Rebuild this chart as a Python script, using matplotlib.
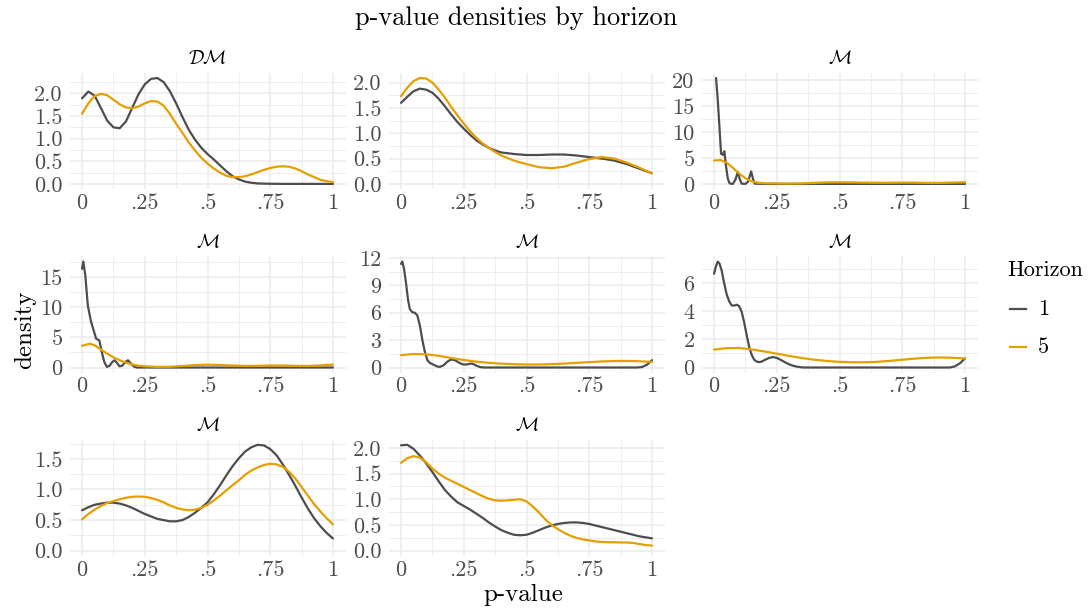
import numpy as np
import matplotlib
matplotlib.use("Agg")
import matplotlib.pyplot as plt
from matplotlib.lines import Line2D
from matplotlib.ticker import FixedLocator, FormatStrFormatter, FixedFormatter

plt.rcParams["font.family"] = ["cmr10", "DejaVu Serif"]
plt.rcParams["mathtext.fontset"] = "cm"
plt.rcParams["axes.formatter.use_mathtext"] = True

col_h1 = "#4D4D4D"
col_h5 = "#E69F00"
grid_col = "#EBEBEB"

titles = [r"$\mathcal{DM}$", "", r"$\mathcal{M}$", r"$\mathcal{M}$",
          r"$\mathcal{M}$", r"$\mathcal{M}$", r"$\mathcal{M}$", r"$\mathcal{M}$"]

horizons = ["1", "5"]

grid41 = [round(0.025 * k, 3) for k in range(41)]

# panel 1
p1_h1_x = [0, .025, .05, .075, .1, .125, .15, .175, .2, .225, .25, .275, .3, .325, .35, .375,
           .4, .425, .45, .475, .5, .525, .55, .575, .6, .625, .65, .675, .7, .75, .8, .9, 1]
p1_h1_y = [1.89, 2.04, 1.95, 1.68, 1.40, 1.25, 1.23, 1.38, 1.68, 1.98, 2.20, 2.32, 2.34, 2.25,
           2.05, 1.78, 1.48, 1.20, 0.98, 0.80, 0.66, 0.54, 0.41, 0.28, 0.17, 0.10, 0.05, 0.025,
           0.01, 0.003, 0, 0, 0]
p1_h5_x = grid41
p1_h5_y = [1.55, 1.78, 1.94, 1.99, 1.96, 1.86, 1.76, 1.69, 1.67, 1.71, 1.78, 1.83, 1.82, 1.73,
           1.55, 1.33, 1.13, 0.92, 0.74, 0.58, 0.45, 0.34, 0.25, 0.18, 0.15, 0.15, 0.17, 0.21,
           0.26, 0.31, 0.35, 0.38, 0.39, 0.38, 0.34, 0.28, 0.21, 0.15, 0.09, 0.06, 0.04]

# panel 2
p2_h1_x = [0, .025, .05, .075, .1, .125, .15, .175, .2, .225, .25, .275, .3, .325, .35, .375,
           .4, .45, .5, .55, .6, .65, .7, .75, .8, .85, .9, .95, 1]
p2_h1_y = [1.60, 1.72, 1.83, 1.88, 1.86, 1.80, 1.68, 1.53, 1.37, 1.22, 1.09, 0.97, 0.86, 0.78,
           0.71, 0.66, 0.62, 0.59, 0.57, 0.57, 0.58, 0.58, 0.56, 0.53, 0.50, 0.46, 0.39, 0.30, 0.21]
p2_h5_x = p2_h1_x
p2_h5_y = [1.73, 1.90, 2.03, 2.09, 2.08, 2.00, 1.86, 1.70, 1.52, 1.35, 1.19, 1.04, 0.91, 0.80,
           0.71, 0.63, 0.56, 0.46, 0.39, 0.33, 0.31, 0.34, 0.42, 0.49, 0.53, 0.50, 0.42, 0.32, 0.21]

# panel 3
p3_h1_x = [.008, .015, .021, .028, .035, .041, .048, .055, .062, .075, .085, .095, .102, .11,
           .125, .135, .148, .155, .162, .2, .5, 1]
p3_h1_y = [20.4, 16.0, 11.4, 5.8, 5.6, 6.3, 3.3, 1.0, 0.1, 0.0, 0.8, 2.3, 1.0, 0.05,
           0.0, 0.4, 2.4, 1.0, 0.05, 0, 0, 0]
p3_h5_x = [0, .025, .05, .075, .1, .125, .15, .175, .2, .25, .3, .35, .4, .45, .5, .55, .6,
           .65, .7, .75, .8, .85, .9, .95, 1]
p3_h5_y = [4.5, 4.6, 4.1, 3.1, 2.0, 1.1, 0.5, 0.22, 0.12, 0.08, 0.06, 0.1, 0.2, 0.28, 0.3,
           0.28, 0.25, 0.22, 0.22, 0.25, 0.24, 0.2, 0.2, 0.25, 0.32]

# panel 4
p4_h1_x = [0, .005, .013, .023, .036, .056, .069, .076, .083, .089, .099, .11, .12, .129, .139,
           .149, .16, .172, .183, .192, .2, .21, .22, .25, .5, 1]
p4_h1_y = [16.4, 17.6, 15.3, 10.3, 7.6, 4.8, 4.5, 3.1, 1.8, 0.9, 0.1, 0.3, 0.9, 1.2, 0.8,
           0.2, 0.3, 0.9, 1.2, 0.8, 0.4, 0.1, 0.0, 0, 0, 0]
p4_h5_x = [0, .03, .05, .075, .1, .125, .15, .175, .2, .225, .25, .3, .35, .4, .45, .5, .55,
           .6, .65, .7, .75, .8, .85, .9, .95, 1]
p4_h5_y = [3.6, 3.95, 3.7, 3.0, 2.3, 1.7, 1.2, 0.8, 0.5, 0.3, 0.2, 0.1, 0.12, 0.25, 0.4, 0.47,
           0.42, 0.33, 0.27, 0.28, 0.33, 0.33, 0.28, 0.25, 0.35, 0.48]

# panel 5
p5_h1_x = [0, .005, .012, .02, .028, .035, .045, .055, .065, .075, .085, .095, .105, .115,
           .13, .145, .155, .17, .185, .2, .215, .23, .245, .26, .275, .285, .3, .315, .33,
           .5, .94, .96, .98, 1]
p5_h1_y = [11.35, 11.6, 10.8, 9.2, 7.4, 6.4, 6.05, 6.0, 5.7, 4.6, 3.0, 1.7, 0.8, 0.5,
           0.3, 0.1, 0.07, 0.25, 0.65, 0.88, 0.8, 0.55, 0.35, 0.32, 0.42, 0.42, 0.2, 0.05, 0,
           0, 0, 0.05, 0.3, 0.8]
p5_h5_x = [0, .05, .1, .15, .2, .25, .3, .35, .4, .45, .5, .55, .6, .65, .7, .75, .8, .85,
           .9, .95, 1]
p5_h5_y = [1.35, 1.48, 1.45, 1.28, 1.04, 0.82, 0.64, 0.51, 0.42, 0.36, 0.33, 0.33, 0.37,
           0.43, 0.51, 0.59, 0.66, 0.71, 0.72, 0.68, 0.62]

# panel 6
p6_h1_x = [0, .008, .015, .022, .03, .04, .05, .06, .07, .08, .09, .1, .11, .12, .13, .14,
           .15, .16, .17, .18, .19, .2, .22, .235, .25, .27, .29, .31, .33, .355, .5, .94,
           .96, .98, 1]
p6_h1_y = [6.64, 7.2, 7.5, 7.35, 6.9, 6.0, 5.2, 4.7, 4.4, 4.38, 4.45, 4.35, 3.95, 3.2, 2.3,
           1.45, 0.9, 0.55, 0.42, 0.38, 0.42, 0.52, 0.68, 0.74, 0.68, 0.5, 0.3, 0.15, 0.06, 0,
           0, 0, 0.08, 0.3, 0.64]
p6_h5_x = p5_h5_x
p6_h5_y = [1.27, 1.37, 1.38, 1.28, 1.14, 0.98, 0.82, 0.67, 0.55, 0.46, 0.40, 0.37, 0.37,
           0.40, 0.47, 0.55, 0.63, 0.69, 0.71, 0.69, 0.64]

# panel 7
p7_h1_x = grid41
p7_h1_y = [0.66, 0.71, 0.75, 0.77, 0.785, 0.785, 0.77, 0.74, 0.70, 0.65, 0.60, 0.56, 0.52,
           0.50, 0.48, 0.48, 0.50, 0.55, 0.62, 0.70, 0.79, 0.92, 1.07, 1.23, 1.38, 1.51, 1.62,
           1.69, 1.73, 1.72, 1.66, 1.56, 1.41, 1.24, 1.06, 0.87, 0.69, 0.53, 0.40, 0.29, 0.2]
p7_h5_x = grid41
p7_h5_y = [0.51, 0.60, 0.67, 0.73, 0.78, 0.81, 0.84, 0.865, 0.88, 0.885, 0.88, 0.86, 0.83,
           0.79, 0.74, 0.70, 0.675, 0.66, 0.67, 0.70, 0.75, 0.82, 0.90, 0.985, 1.07, 1.15,
           1.24, 1.31, 1.36, 1.40, 1.42, 1.41, 1.37, 1.29, 1.18, 1.04, 0.90, 0.76, 0.64, 0.53,
           0.43]

# panel 8
p8_h1_x = grid41
p8_h1_y = [2.05, 2.06, 1.98, 1.85, 1.70, 1.53, 1.35, 1.18, 1.05, 0.94, 0.87, 0.80, 0.72,
           0.64, 0.55, 0.47, 0.40, 0.35, 0.31, 0.30, 0.31, 0.35, 0.40, 0.45, 0.49, 0.52, 0.54,
           0.55, 0.55, 0.54, 0.52, 0.49, 0.46, 0.43, 0.40, 0.37, 0.34, 0.31, 0.28, 0.26, 0.24]
p8_h5_x = grid41
p8_h5_y = [1.71, 1.80, 1.84, 1.81, 1.72, 1.60, 1.50, 1.42, 1.36, 1.30, 1.24, 1.18, 1.12,
           1.06, 1.01, 0.98, 0.97, 0.98, 0.99, 1.00, 0.96, 0.86, 0.74, 0.61, 0.50, 0.42, 0.35,
           0.29, 0.25, 0.22, 0.20, 0.18, 0.17, 0.165, 0.165, 0.16, 0.16, 0.15, 0.13, 0.11, 0.1]

series = [
    (p1_h1_x, p1_h1_y, p1_h5_x, p1_h5_y),
    (p2_h1_x, p2_h1_y, p2_h5_x, p2_h5_y),
    (p3_h1_x, p3_h1_y, p3_h5_x, p3_h5_y),
    (p4_h1_x, p4_h1_y, p4_h5_x, p4_h5_y),
    (p5_h1_x, p5_h1_y, p5_h5_x, p5_h5_y),
    (p6_h1_x, p6_h1_y, p6_h5_x, p6_h5_y),
    (p7_h1_x, p7_h1_y, p7_h5_x, p7_h5_y),
    (p8_h1_x, p8_h1_y, p8_h5_x, p8_h5_y),
]

y_ticks = [
    [0, 0.5, 1.0, 1.5, 2.0],
    [0, 0.5, 1.0, 1.5, 2.0],
    [0, 5, 10, 15, 20],
    [0, 5, 10, 15],
    [0, 3, 6, 9, 12],
    [0, 2, 4, 6],
    [0, 0.5, 1.0, 1.5],
    [0, 0.5, 1.0, 1.5, 2.0],
]
y_fmt = ["%.1f", "%.1f", "%d", "%d", "%d", "%d", "%.1f", "%.1f"]

x_ticks = [0, 0.25, 0.5, 0.75, 1]
x_labels = ["0", ".25", ".5", ".75", "1"]

W, H = 1091, 609
fig = plt.figure(figsize=(W / 100, H / 100), dpi=100)

# panel boxes in pixels: left edges per column, top edges per row
col_left = [69.5, 388.5, 701.5]
row_top = [72.7, 256.3, 439.5]
pw, ph = 276, 116.5

for i, (x1, y1, x5, y5) in enumerate(series):
    r, c = divmod(i, 3)
    ax = fig.add_axes([col_left[c] / W, 1 - (row_top[r] + ph) / H, pw / W, ph / H])
    ax.plot(x1, y1, color=col_h1, lw=1.6, solid_capstyle="round", solid_joinstyle="round")
    ax.plot(x5, y5, color=col_h5, lw=1.6, solid_capstyle="round", solid_joinstyle="round")

    ymax = max(max(y1), max(y5))
    ax.set_xlim(-0.05, 1.05)
    ax.set_ylim(-0.05 * ymax, 1.05 * ymax)

    ax.xaxis.set_major_locator(FixedLocator(x_ticks))
    ax.xaxis.set_major_formatter(FixedFormatter(x_labels))
    ax.xaxis.set_minor_locator(FixedLocator([0.125, 0.375, 0.625, 0.875]))
    yt = y_ticks[i]
    ax.yaxis.set_major_locator(FixedLocator(yt))
    ax.yaxis.set_major_formatter(FormatStrFormatter(y_fmt[i]))
    step = yt[1] - yt[0]
    ax.yaxis.set_minor_locator(FixedLocator([t + step / 2 for t in yt]))

    ax.grid(which="major", color=grid_col, lw=1.1)
    ax.grid(which="minor", color=grid_col, lw=0.6)
    ax.set_axisbelow(True)
    for s in ax.spines.values():
        s.set_visible(False)
    ax.tick_params(which="both", length=0, labelsize=16, labelcolor="#4D4D4D")
    ax.tick_params(axis="x", pad=3)
    ax.tick_params(axis="y", pad=5)
    ax.set_title(titles[i], fontsize=14, pad=6)

fig.text(516 / W, 1 - 18 / H, "p-value densities by horizon", ha="center", va="center",
         fontsize=19)
fig.text(523.5 / W, 1 - 595 / H, "p-value", ha="center", va="center", fontsize=18)
fig.text(25 / W, 1 - 330 / H, "density", ha="center", va="center", rotation=90, fontsize=18)

# legend drawn by hand in figure pixels
fig.text(1007 / W, 1 - 270 / H, "Horizon", ha="left", va="center", fontsize=16)
for lab, col, yy in zip(horizons, [col_h1, col_h5], [309, 347]):
    fig.add_artist(Line2D([1010 / W, 1026 / W], [1 - yy / H, 1 - yy / H], color=col, lw=1.6,
                          transform=fig.transFigure))
    fig.text(1038 / W, 1 - yy / H, lab, ha="left", va="center", fontsize=16)

fig.savefig("out.png", dpi=100, facecolor="white")
